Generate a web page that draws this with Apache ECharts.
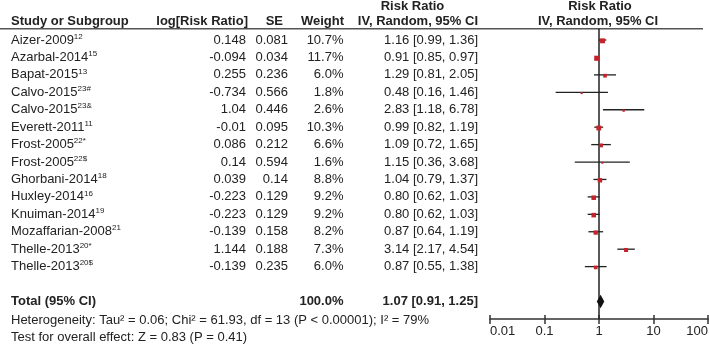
<!DOCTYPE html>
<html>
<head>
<meta charset="utf-8">
<script src="https://cdn.jsdelivr.net/npm/echarts@6/dist/echarts.min.js"></script>
<style>
  html, body { margin: 0; padding: 0; background: #fff; }
  #chart { width: 709px; height: 349px; }
</style>
</head>
<body>
<div id="chart"></div>
<script>
// study rows
const studies = ['Aizer-2009', 'Azarbal-2014', 'Bapat-2015', 'Calvo-2015', 'Calvo-2015', 'Everett-2011',
  'Frost-2005', 'Frost-2005', 'Ghorbani-2014', 'Huxley-2014', 'Knuiman-2014', 'Mozaffarian-2008',
  'Thelle-2013', 'Thelle-2013'];
const refs = ['12', '15', '13', '23#', '23&', '11', '22*', '22$', '18', '16', '19', '21', '20*', '20$'];
const logRR = ['0.148', '-0.094', '0.255', '-0.734', '1.04', '-0.01', '0.086', '0.14', '0.039', '-0.223',
  '-0.223', '-0.139', '1.144', '-0.139'];
const se = ['0.081', '0.034', '0.236', '0.566', '0.446', '0.095', '0.212', '0.594', '0.14', '0.129',
  '0.129', '0.158', '0.188', '0.235'];
const weight = [10.7, 11.7, 6.0, 1.8, 2.6, 10.3, 6.6, 1.6, 8.8, 9.2, 9.2, 8.2, 7.3, 6.0];
const rr = [1.16, 0.91, 1.29, 0.48, 2.83, 0.99, 1.09, 1.15, 1.04, 0.80, 0.80, 0.87, 3.14, 0.87];
const lo = [0.99, 0.85, 0.81, 0.16, 1.18, 0.82, 0.72, 0.36, 0.79, 0.62, 0.62, 0.64, 2.17, 0.55];
const hi = [1.36, 0.97, 2.05, 1.46, 6.78, 1.19, 1.65, 3.68, 1.37, 1.03, 1.03, 1.19, 4.54, 1.38];

// pooled estimate
const totalWeight = 100.0;
const totalRR = [1.07, 0.91, 1.25]; // est, lo, hi
const nullValue = 1;

const heterogeneity = 'Heterogeneity: Tau² = 0.06; Chi² = 61.93, df = 13 (P < 0.00001); I² = 79%';
const overallTest = 'Test for overall effect: Z = 0.83 (P = 0.41)';

const FONT = '"Liberation Sans", Arial, sans-serif';
const INK = '#222';
const RED = '#c4232b';
const TOTAL_ROW = studies.length + 2;

const chart = echarts.init(document.getElementById('chart'), null, { renderer: 'canvas' });

function txt(x, y, text, align, bold) {
  return {
    type: 'text',
    x: x, y: y,
    style: {
      text: text, fill: INK, fontSize: 13, fontFamily: FONT,
      fontWeight: bold ? 'bold' : 'normal',
      align: align, verticalAlign: 'middle'
    }
  };
}

const tableRows = studies.map((s, i) => [nullValue, i + 1]);
const forestRows = rr.map((v, i) => [v, i + 1, lo[i], hi[i], weight[i]]);

chart.setOption({
  animation: false,
  grid: { left: 490, right: 1, top: 28.7, height: 290.2, outerBoundsMode: 'none' },
  xAxis: [{
    type: 'log',
    logBase: 10,
    min: 0.01,
    max: 100,
    axisLine: { lineStyle: { color: '#333', width: 1.5 } },
    axisTick: { length: 5, lineStyle: { color: '#333', width: 1.5 } },
    axisLabel: {
      color: INK, fontSize: 13, fontFamily: FONT, margin: 6,
      alignMinLabel: 'left', alignMaxLabel: 'right',
      formatter: (v) => String(Number(v.toPrecision(3)))
    },
    splitLine: { show: false }
  }, {
    type: 'log',
    logBase: 10,
    min: 0.01,
    max: 100,
    position: 'bottom',
    axisLine: { show: false },
    axisTick: { inside: true, length: 4, lineStyle: { color: '#333', width: 1.5 } },
    axisLabel: { show: false },
    splitLine: { show: false }
  }],
  yAxis: { type: 'value', inverse: true, min: 0.35, max: 17, show: false },
  graphic: [
    { type: 'line', shape: { x1: 0, y1: 28.7, x2: 703, y2: 28.7 }, style: { stroke: '#555', lineWidth: 1.5 } },
    txt(11, 21.5, 'Study or Subgroup', 'left', true),
    txt(248, 21.5, 'log[Risk Ratio]', 'right', true),
    txt(283, 21.5, 'SE', 'right', true),
    txt(344, 21.5, 'Weight', 'right', true),
    txt(412.5, 6, 'Risk Ratio', 'center', true),
    txt(478, 21.5, 'IV, Random, 95% CI', 'right', true),
    txt(600, 6, 'Risk Ratio', 'center', true),
    txt(598, 21.5, 'IV, Random, 95% CI', 'center', true),
    txt(11, 320, heterogeneity, 'left', false),
    txt(11, 337, overallTest, 'left', false)
  ],
  series: [
    {
      // line of no effect
      type: 'custom',
      xAxisIndex: 0,
      z: 1,
      silent: true,
      data: [[nullValue]],
      renderItem: (params, api) => {
        const a = api.coord([api.value(0), 0.35]);
        const b = api.coord([api.value(0), 17]);
        return {
          type: 'line',
          shape: { x1: a[0], y1: a[1], x2: b[0], y2: b[1] },
          style: { stroke: '#222', lineWidth: 1.5 }
        };
      }
    },
    {
      // study estimates with CI
      type: 'custom',
      xAxisIndex: 0,
      z: 3,
      silent: true,
      data: forestRows,
      renderItem: (params, api) => {
        const c = api.coord([api.value(0), api.value(1)]);
        const l = api.coord([api.value(2), api.value(1)]);
        const h = api.coord([api.value(3), api.value(1)]);
        const s = Math.sqrt(api.value(4)) * 1.5;
        return {
          type: 'group',
          children: [
            { type: 'line', shape: { x1: l[0], y1: c[1], x2: h[0], y2: c[1] }, style: { stroke: '#222', lineWidth: 1.3 } },
            { type: 'rect', shape: { x: c[0] - s / 2, y: c[1] - s / 2 + 0.8, width: s, height: s }, style: { fill: RED } }
          ]
        };
      }
    },
    {
      // pooled diamond
      type: 'custom',
      xAxisIndex: 0,
      z: 3,
      silent: true,
      data: [[totalRR[0], TOTAL_ROW, totalRR[1], totalRR[2]]],
      renderItem: (params, api) => {
        const c = api.coord([api.value(0), api.value(1)]);
        const l = api.coord([api.value(2), api.value(1)]);
        const h = api.coord([api.value(3), api.value(1)]);
        return {
          type: 'polygon',
          shape: { points: [[l[0], c[1]], [c[0], c[1] - 6.8], [h[0], c[1]], [c[0], c[1] + 6.8]] },
          style: { fill: '#111' }
        };
      }
    },
    {
      // table text
      type: 'custom',
      xAxisIndex: 0,
      clip: false,
      silent: true,
      data: tableRows,
      renderItem: (params, api) => {
        const i = params.dataIndex;
        const y = api.coord([api.value(0), api.value(1)])[1];
        const ci = rr[i].toFixed(2) + ' [' + lo[i].toFixed(2) + ', ' + hi[i].toFixed(2) + ']';
        return {
          type: 'group',
          children: [
            {
              type: 'text', x: 11, y: y,
              style: {
                text: '{n|' + studies[i] + '}{s|' + refs[i] + '}',
                verticalAlign: 'middle', align: 'left',
                rich: {
                  n: { fontSize: 13, fontFamily: FONT, fill: INK, color: INK, lineHeight: 14 },
                  s: { fontSize: 8, fontFamily: FONT, fill: INK, color: INK, lineHeight: 14, padding: [0, 0, 7, 0] }
                }
              }
            },
            txt(246, y, logRR[i], 'right', false),
            txt(288, y, se[i], 'right', false),
            txt(343.5, y, weight[i].toFixed(1) + '%', 'right', false),
            txt(478, y, ci, 'right', false)
          ]
        };
      }
    },
    {
      // total row text
      type: 'custom',
      xAxisIndex: 0,
      clip: false,
      silent: true,
      data: [[nullValue, TOTAL_ROW]],
      renderItem: (params, api) => {
        const y = api.coord([api.value(0), api.value(1)])[1];
        const ci = totalRR[0].toFixed(2) + ' [' + totalRR[1].toFixed(2) + ', ' + totalRR[2].toFixed(2) + ']';
        return {
          type: 'group',
          children: [
            txt(11, y, 'Total (95% CI)', 'left', true),
            txt(343.5, y, totalWeight.toFixed(1) + '%', 'right', true),
            txt(478, y, ci, 'right', true)
          ]
        };
      }
    }
  ]
});
</script>
</body>
</html>
